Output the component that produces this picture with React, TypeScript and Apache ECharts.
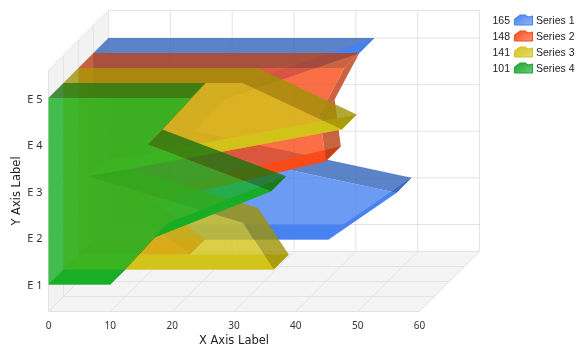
import React, { useEffect, useRef } from "react";
import * as echarts from "echarts";

const seriesNames = ["Series 1", "Series 2", "Series 3", "Series 4"];
const categories = ["E 1", "E 2", "E 3", "E 4", "E 5"];
const xTicks = [0, 10, 20, 30, 40, 50, 60];
const series1 = [38, 49, 14, 21, 43];
const series2 = [18, 8, 40, 39, 43];
const series3 = [34, 29, 4, 45, 29];
const series4 = [10, 17, 36, 16, 23];
const legendTotals = [165, 148, 141, 101];
const allSeries = [series1, series2, series3, series4];

const front = [[70, 130, 240], [250, 75, 25], [210, 195, 25], [22, 175, 35]];
const light = [[70, 130, 240], [250, 75, 25], [210, 195, 25], [25, 165, 42]];
const dark = [[50, 100, 186], [186, 61, 17], [159, 146, 5], [25, 115, 15]];
const DEPTH = 15;
const ROWS = 4;
const LINE = "#e3e3e3";
const YMIN = 0.42;
const YMAX = 5.59;
const yTicks = categories.map((_, i) => i + 1);

const rgba = (c: number[], a: number) => `rgba(${c[0]},${c[1]},${c[2]},${a})`;
const mix = (a: number[], b: number[], t: number) => a.map((v, i) => Math.round(v + (b[i] - v) * t));

function renderWalls(_: any, api: any) {
  const c = (x: number, y: number, d = 0) => {
    const p = api.coord([x, y]);
    return [p[0] + d * DEPTH, p[1] - d * DEPTH];
  };
  const line = (a: number[], b: number[]) => ({
    type: "line",
    shape: { x1: a[0], y1: a[1], x2: b[0], y2: b[1] },
    style: { stroke: LINE, lineWidth: 1 },
  });
  const poly = (pts: number[][], fill: string) => ({ type: "polygon", shape: { points: pts }, style: { fill } });
  const X0 = xTicks[0];
  const X1 = xTicks[xTicks.length - 1];
  const children: any[] = [
    poly([c(X0, YMAX), c(X0, YMAX, ROWS), c(X0, YMIN, ROWS), c(X0, YMIN)], "#f2f2f2"),
    poly([c(X0, YMIN), c(X0, YMIN, ROWS), c(X1, YMIN, ROWS), c(X1, YMIN)], "#f4f4f4"),
  ];
  for (let d = 0; d <= ROWS; d++) {
    children.push(line(c(X0, YMIN, d), c(X1, YMIN, d)));
    children.push(line(c(X0, YMIN, d), c(X0, YMAX, d)));
  }
  xTicks.forEach((x) => {
    children.push(line(c(x, YMIN), c(x, YMIN, ROWS)));
    children.push(line(c(x, YMIN, ROWS), c(x, YMAX, ROWS)));
  });
  yTicks.forEach((y) => {
    children.push(line(c(X0, y), c(X0, y, ROWS)));
    children.push(line(c(X0, y, ROWS), c(X1, y, ROWS)));
  });
  children.push(line(c(X0, YMAX), c(X0, YMAX, ROWS)));
  children.push(line(c(X0, YMAX, ROWS), c(X1, YMAX, ROWS)));
  return { type: "group", children };
}

function makeArea(si: number) {
  const values = allSeries[si];
  const depth = allSeries.length - 1 - si;
  return (params: any, api: any) => {
    const at = (x: number, y: number, d: number) => {
      const p = api.coord([x, y]);
      return [p[0] + d * DEPTH, p[1] - d * DEPTH];
    };
    const i = params.dataIndex;
    const n = values.length;
    const lc = light[si];
    const dc = dark[si];
    const children: any[] = [];
    const quad = (a: number[], b: number[], col: number[], alpha: number) => {
      const a2 = [a[0] + DEPTH, a[1] - DEPTH];
      const b2 = [b[0] + DEPTH, b[1] - DEPTH];
      children.push({
        type: "polygon",
        shape: { points: [a, b, b2, a2] },
        style: { fill: rgba(col, alpha) },
      });
    };
    if (i === 0) {
      quad(at(0, 1, depth), at(values[0], 1, depth), lc, 0.95);
      quad(at(0, n, depth), at(values[n - 1], n, depth), dc, 0.8);
    }
    if (i < n - 1) {
      const a = at(values[i], i + 1, depth);
      const b = at(values[i + 1], i + 2, depth);
      const dx = b[0] - a[0];
      const dy = a[1] - b[1];
      const f = dx / Math.hypot(dx, dy);
      const t = Math.max(0, Math.min(1, (f - 0.45) / 0.4));
      quad(a, b, mix(dc, lc, t), 0.8 + 0.15 * t);
    }
    if (i === n - 1) {
      const pts = [at(0, 1, depth)];
      values.forEach((v, k) => pts.push(at(v, k + 1, depth)));
      pts.push(at(0, n, depth));
      children.push({
        type: "polygon",
        shape: { points: pts },
        style: { fill: rgba(front[si], 0.8) },
      });
    }
    return { type: "group", children };
  };
}

export default function App() {
  const ref = useRef<HTMLDivElement>(null);
  useEffect(() => {
    const chart = echarts.init(ref.current!, undefined, { renderer: "svg" });
    const tickFont = "'Noto Sans'";
    const nameFont = "'DejaVu Sans'";
    const legendFont = "'Liberation Sans'";
    const legendGraphics: any[] = [];
    seriesNames.forEach((name, i) => {
      const y = 19.5 + i * 16;
      legendGraphics.push({
        type: "text",
        x: 510,
        y,
        style: {
          text: String(legendTotals[i]),
          fill: "#222",
          font: `10.5px ${legendFont}`,
          textAlign: "right",
          textVerticalAlign: "middle",
        },
      });
      legendGraphics.push({
        type: "polygon",
        shape: {
          points: [
            [514.5, y + 5.5],
            [514.5, y - 0.5],
            [520, y - 4.5],
            [525.5, y - 4.5],
            [528, y - 2.5],
            [532.5, y - 3.5],
            [532.5, y + 5.5],
          ],
        },
        style: {
          fill: new echarts.graphic.LinearGradient(0, 0, 1, 1, [
            { offset: 0, color: rgba(light[i], 1) },
            { offset: 1, color: rgba(mix(light[i], [255, 255, 255], 0.4), 1) },
          ]),
          stroke: rgba(light[i], 1),
          lineWidth: 1,
        },
      });
      legendGraphics.push({
        type: "text",
        x: 536,
        y,
        style: {
          text: name,
          fill: "#222",
          font: `10.5px ${legendFont}`,
          textAlign: "left",
          textVerticalAlign: "middle",
        },
      });
    });
    chart.setOption({
      animation: false,
      grid: { left: 48.5, top: 70.5, width: 371, height: 241, outerBoundsMode: "none" },
      xAxis: {
        type: "value",
        min: 0,
        max: 60,
        interval: 10,
        name: "X Axis Label",
        nameLocation: "middle",
        nameGap: 21,
        nameTextStyle: { fontFamily: nameFont, fontSize: 11.5, color: "#222" },
        axisLine: { show: false },
        axisTick: { show: false },
        splitLine: { show: false },
        axisLabel: { fontFamily: tickFont, fontSize: 10, color: "#333", margin: 8 },
      },
      yAxis: {
        type: "value",
        min: YMIN,
        max: YMAX,
        name: "Y Axis Label",
        nameLocation: "middle",
        nameGap: 27,
        nameMoveOverlap: false,
        nameRotate: 90,
        nameTextStyle: { fontFamily: nameFont, fontSize: 11.5, color: "#222" },
        axisLine: { show: false },
        axisTick: { show: false },
        splitLine: { show: false },
        axisLabel: {
          customValues: yTicks,
          formatter: (v: number) => categories[Math.round(v) - 1],
          fontFamily: tickFont,
          fontSize: 11,
          color: "#333",
          margin: 6,
        },
      },
      graphic: legendGraphics,
      series: [
        {
          type: "custom",
          name: "walls",
          clip: false,
          silent: true,
          renderItem: renderWalls,
          data: [[0, 1]],
          z: 1,
        },
        ...seriesNames.map((name, si) => ({
          type: "custom",
          name,
          clip: false,
          silent: true,
          renderItem: makeArea(si),
          data: allSeries[si].map((v, i) => [v, i + 1]),
          encode: { x: 0, y: 1 },
          z: 2 + si,
        })),
      ],
    });
    return () => chart.dispose();
  }, []);
  return <div ref={ref} style={{ position: "fixed", left: 0, top: 0, width: 584, height: 352 }} />;
}
